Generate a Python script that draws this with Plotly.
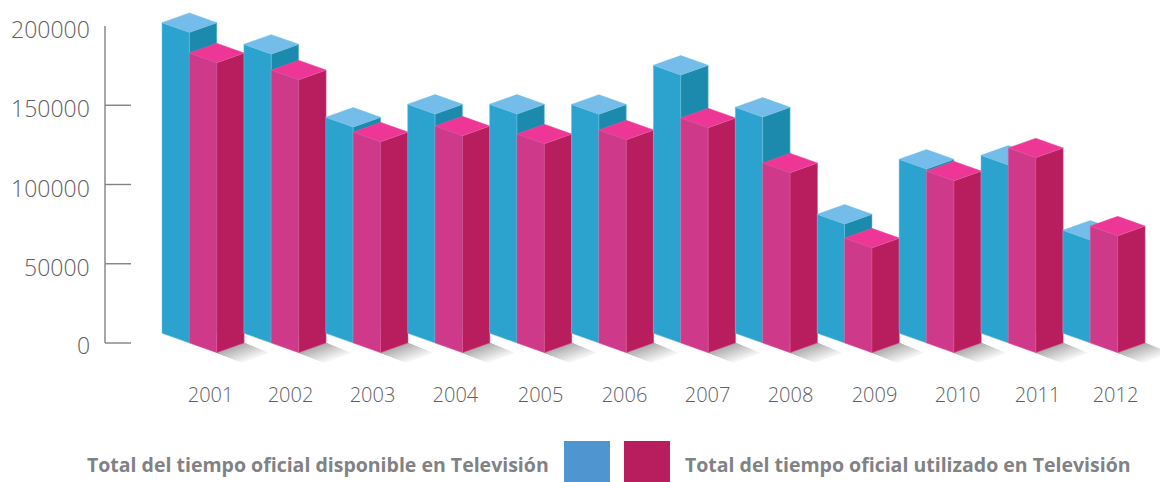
import plotly.graph_objects as go

# ---- data ----
years = ["2001", "2002", "2003", "2004", "2005", "2006", "2007", "2008", "2009", "2010", "2011", "2012"]
disponible = [196000, 182300, 136300, 144500, 144500, 144400, 169100, 142600, 75100, 109800, 112300, 65000]
utilizado = [183000, 172200, 133100, 136900, 131900, 134400, 142000, 113600, 66200, 108500, 123100, 73800]
y_ticks = [0, 50000, 100000, 150000, 200000]
name_disponible = "Total del tiempo oficial disponible en Televisión"
name_utilizado = "Total del tiempo oficial utilizado en Televisión"

# ---- geometry / style ----
W, H = 1160, 482
PITCH = 81.9        # px per year
X0 = 162.0          # px of the first bar's left corner
Y0 = 343.0          # px of value 0
PX_PER_VAL = 317.0 / 200000
HALF_W = 27.4
HALF_D = 9.7
AXIS_X = (105 - X0) / PITCH
TICK_END = (131 - X0) / PITCH
year_label_pos = [0.593, 1.569, 2.570, 3.583, 4.622, 5.647, 6.661, 7.674, 8.700, 9.713, 10.690, 11.642]

BLUE = dict(left="#2ca2cf", right="#1c8aad", top="#74bce9", edge="#6fc0e0")
PINK = dict(left="#cf398a", right="#b81d5e", top="#ed3695", edge="#dc5a9e")
GRAY = "#808285"
TXT = "#5f6062"
FONT = "Open Sans"

fig = go.Figure()


def dx(px):
    return px / PITCH


def dv(px):
    return px / PX_PER_VAL


def poly(xs, ys, fill, line=None):
    fig.add_trace(go.Scatter(
        x=xs + xs[:1], y=ys + ys[:1], mode="lines", fill="toself", fillcolor=fill,
        line=dict(color=line or fill, width=0.5 if line else 0),
        hoverinfo="skip", showlegend=False))


def shadow(i_left, base):
    # fading parallelogram on the floor right of the bar: nested, lightest and largest first
    n = 12
    fx, fy = i_left + dx(HALF_W), base - dv(HALF_D)       # front corner
    rx, ry = i_left + dx(2 * HALF_W), base                # right corner
    sx, sy = dx(25), -dv(10)                              # sweep of the shadow
    for k in range(n, 0, -1):
        b = k / n
        g = int(176 + (252 - 176) * (b - 1 / n))
        c = f"rgb({g},{g},{min(g + 1, 255)})"
        poly([fx, rx, rx + sx * b, fx + sx * b],
             [fy, ry, ry + sy * b, fy + sy * b], c)


def bar(i_left, base, value, st):
    top = base + value
    l, f, r = i_left, i_left + dx(HALF_W), i_left + dx(2 * HALF_W)
    d = dv(HALF_D)
    poly([l, f, f, l], [base, base - d, top - d, top], st["left"], st["edge"])
    poly([f, r, r, f], [base - d, base, top, top - d], st["right"], st["edge"])
    poly([l, f, r, f], [top, top - d, top, top + d], st["top"], st["edge"])


# floor shadows first
for i in range(len(years)):
    shadow(i + dx(HALF_W), 0)

for i, (a, b) in enumerate(zip(disponible, utilizado)):
    bar(i, dv(HALF_D), a, BLUE)
    bar(i + dx(HALF_W), 0, b, PINK)

# y axis line and ticks
fig.add_trace(go.Scatter(x=[AXIS_X, AXIS_X], y=[y_ticks[0], y_ticks[-1]], mode="lines",
                         line=dict(color=GRAY, width=1.4), hoverinfo="skip", showlegend=False))
for t in y_ticks[:-1]:
    fig.add_trace(go.Scatter(x=[AXIS_X, TICK_END], y=[t, t], mode="lines",
                             line=dict(color=GRAY, width=1.4), hoverinfo="skip", showlegend=False))

annotations = []
for t, shift in zip(y_ticks, [-2, -3, -3, -3, -3]):
    annotations.append(dict(x=dx(91.5 - X0), y=t, xref="x", yref="y", text=str(t), showarrow=False,
                            xanchor="right", yanchor="middle", yshift=shift, xshift=0,
                            font=dict(family=FONT, size=23, color=TXT, weight=300)))
for text, x, anchor in [(name_disponible, 551, "right"), (name_utilizado, 683, "left")]:
    annotations.append(dict(x=x / W, y=(H - 464) / H, xref="paper", yref="paper", text=text, showarrow=False,
                            xanchor=anchor, yanchor="middle",
                            font=dict(family=FONT, size=19.5, color=GRAY, weight=700)))

shapes = [
    dict(type="rect", xref="paper", yref="paper", x0=564 / W, x1=610 / W, y0=0, y1=(H - 441) / H,
         fillcolor="#4f95d0", line_width=0),
    dict(type="rect", xref="paper", yref="paper", x0=624 / W, x1=670 / W, y0=0, y1=(H - 441) / H,
         fillcolor="#b81d5e", line_width=0),
]

fig.update_layout(
    width=W, height=H, margin=dict(l=0, r=0, t=0, b=0),
    paper_bgcolor="white", plot_bgcolor="white", showlegend=False, hovermode=False,
    annotations=annotations, shapes=shapes,
    xaxis=dict(range=[-X0 / PITCH, (W - X0) / PITCH], domain=[0, 1], showgrid=False, zeroline=False,
               showline=False, ticks="", tickmode="array", tickvals=year_label_pos, ticktext=years,
               tickfont=dict(family=FONT, size=20, color=TXT, weight=300),
               anchor="free", position=(H - 381) / H),
    yaxis=dict(range=[(Y0 - H) / PX_PER_VAL, Y0 / PX_PER_VAL], domain=[0, 1], showgrid=False, zeroline=False,
               showline=False, showticklabels=False, ticks=""),
)
fig.write_html("out.html", config=dict(displayModeBar=False),
               post_script="document.body.style.margin='0';document.body.style.overflow='hidden';")
